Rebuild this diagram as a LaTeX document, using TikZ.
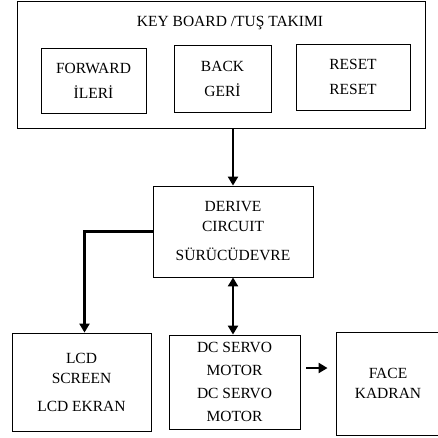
\documentclass[tikz,border=0pt]{standalone}
\usepackage{fontspec}
\setmainfont{Liberation Serif}
\usetikzlibrary{arrows.meta}
\tikzset{
  blok/.style={draw, line width=0.9pt, inner sep=0pt, align=center,
    font=\fontsize{15.5}{20}\selectfont},
  ok/.style={line width=2.2pt, -{Triangle[length=9pt,width=10pt]}},
  ciftok/.style={line width=2.2pt, {Triangle[length=9pt,width=10pt]}-{Triangle[length=9pt,width=10pt]}},
}
\begin{document}
\begin{tikzpicture}[x=1pt,y=-1pt]
\useasboundingbox (0,0) rectangle (438,437);

% Tus takimi
\node[blok, minimum width=408pt, minimum height=127pt] (klavye) at (221,64.5) {};
\node[font=\fontsize{15.5}{20}\selectfont] (baslik) at (230,23) {KEY BOARD /TUŞ TAKIMI};
\node[blok, minimum width=105pt, minimum height=65pt] (ileri) at (93.5,80.5) {FORWARD\\[5pt]İLERİ};
\node[blok, minimum width=97pt, minimum height=67pt] (geri) at (222.5,78.5) {BACK\\[5pt]GERİ};
\node[blok, minimum width=114pt, minimum height=66pt] (sifirla) at (353,77) {RESET\\[5pt]RESET};

% Surucu devre
\node[blok, minimum width=160pt, minimum height=91pt] (surucu) at (233,231.5)
  {DERIVE\\CIRCUIT\\[9pt]SÜRÜCÜDEVRE};

% Alt bloklar
\node[blok, minimum width=139pt, minimum height=98pt] (lcd) at (81.5,382)
  {LCD\\SCREEN\\[8pt]LCD EKRAN};
\node[blok, minimum width=131pt, minimum height=94pt] (servo) at (234.5,382)
  {DC SERVO\\[3pt]MOTOR\\[3pt]DC SERVO\\[3pt]MOTOR};
\node[blok, minimum width=104pt, minimum height=103pt] (kadran) at (388,383.5)
  {FACE\\KADRAN};

% Baglantilar
\draw[ok] (klavye.south -| surucu.north) -- (surucu.north);
\draw[ok] (surucu.west) -| ([xshift=3pt]lcd.north);
\draw[ciftok] (surucu.south) -- (surucu.south |- servo.north);
\draw[ok, shorten <=6pt, shorten >=8pt] ([yshift=14pt]servo.east) -- ([yshift=14pt]servo.east -| kadran.west);
\end{tikzpicture}
\end{document}
